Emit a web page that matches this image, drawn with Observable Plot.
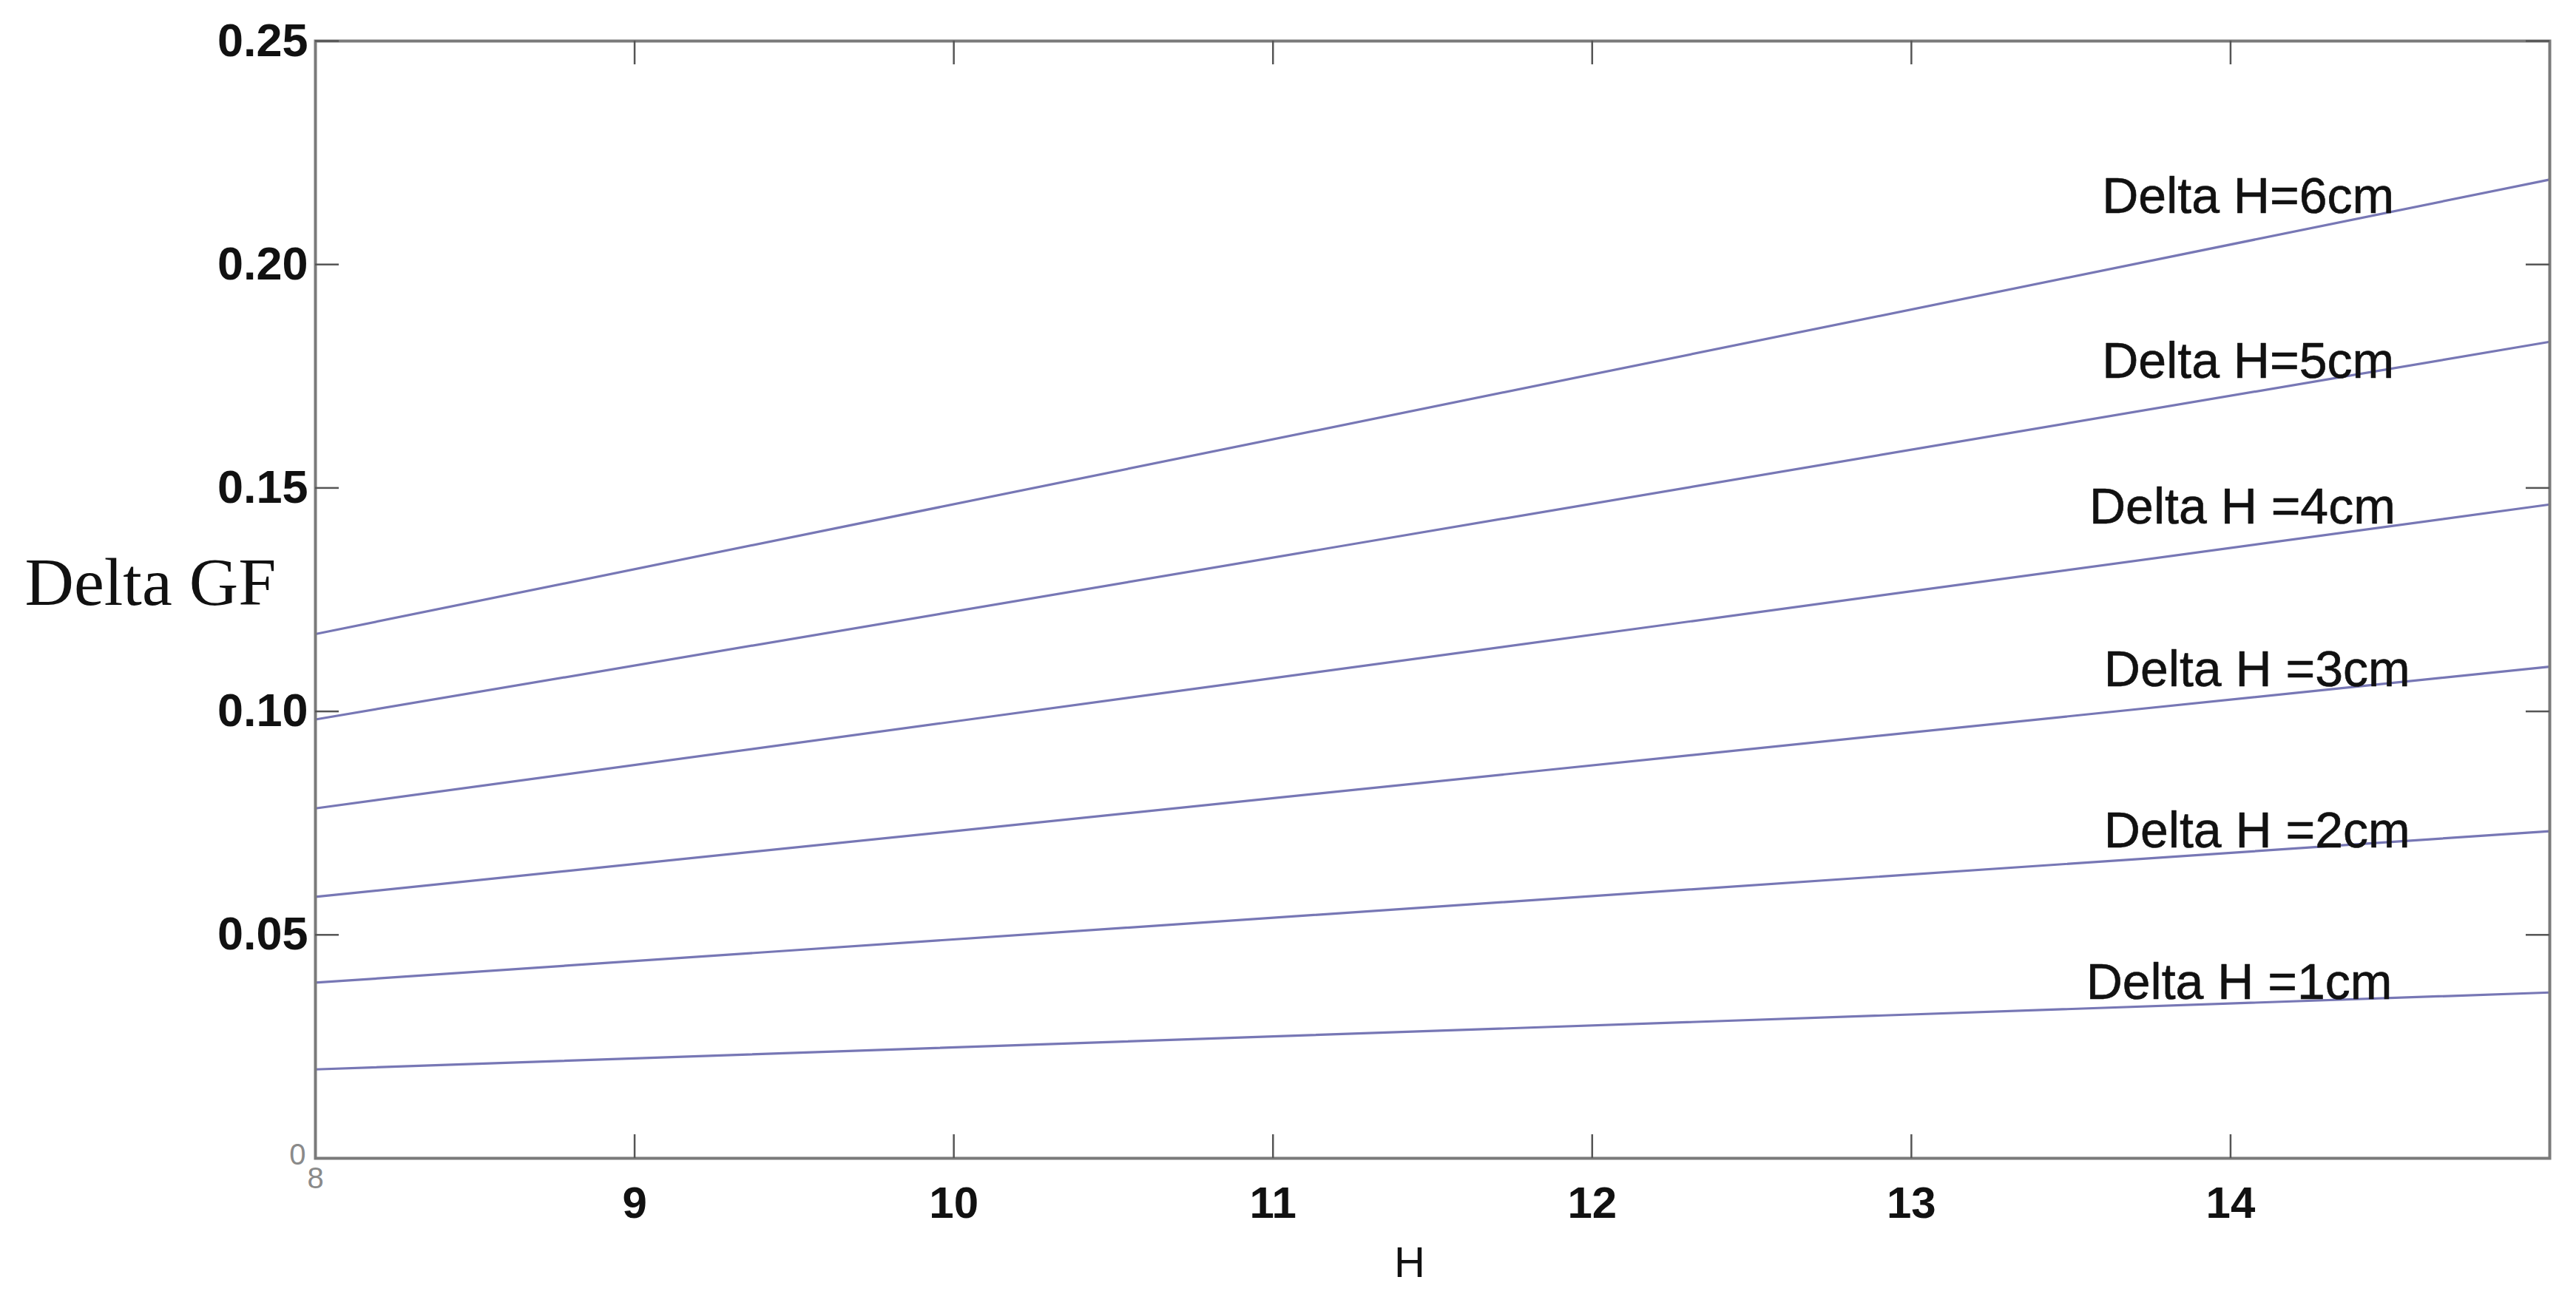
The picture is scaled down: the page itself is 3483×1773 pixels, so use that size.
<!DOCTYPE html>
<html><head><meta charset="utf-8">
<script src="https://cdn.jsdelivr.net/npm/d3@7"></script>
<script src="https://cdn.jsdelivr.net/npm/@observablehq/plot@0.6"></script>
<style>body{margin:0;background:#fff;}</style>
</head><body><div id="chart"></div>
<script>
// Data (H in cm, Delta GF)
const hValues = [8, 15];
const seriesNames = ["Delta H=1cm","Delta H=2cm","Delta H=3cm","Delta H=4cm","Delta H=5cm","Delta H=6cm"];
const gf1 = [0.0199, 0.0371];
const gf2 = [0.0393, 0.0732];
const gf3 = [0.0585, 0.1100];
const gf4 = [0.0783, 0.1463];
const gf5 = [0.0982, 0.1827];
const gf6 = [0.1173, 0.2190];
// label anchor points (data units)
const labelText = ["Delta H =1cm","Delta H =2cm","Delta H =3cm","Delta H =4cm","Delta H=5cm","Delta H=6cm"];
const labelH  = [14.027, 14.083, 14.083, 14.037, 14.055, 14.055];
const labelGF = [0.0393, 0.0732, 0.1092, 0.1456, 0.1783, 0.2151];
const yTicks = [0.05, 0.10, 0.15, 0.20, 0.25];
const xTicks = [9, 10, 11, 12, 13, 14];
const xLabel = "H";
const yLabel = "Delta GF";

const W = 3483, HH = 1773;
const mL = 426, mR = 36, mT = 55, mB = 207;
const innerW = W - mL - mR, innerH = HH - mT - mB;
const tick = 32;

const allSeries = [gf1, gf2, gf3, gf4, gf5, gf6];
const rows = [];
allSeries.forEach((vals, i) => vals.forEach((v, j) => rows.push({series: seriesNames[i], H: hValues[j], GF: v})));
const labels = labelText.map((t, i) => ({text: t, H: labelH[i], GF: labelGF[i]}));

const chart = Plot.plot({
  width: W, height: HH,
  marginLeft: mL, marginRight: mR, marginTop: mT, marginBottom: mB,
  x: {domain: [8, 15]},
  y: {domain: [0, 0.25]},
  style: {background: "#fff", fontFamily: "'Liberation Sans', Arial, sans-serif", color: "#111"},
  marks: [
    Plot.line(rows, {x: "H", y: "GF", z: "series", stroke: "#7777b5", strokeWidth: 3.2}),
    Plot.frame({stroke: "#7a7a7a", strokeWidth: 4}),
    Plot.ruleY(yTicks, {y: d => d, insetRight: innerW - tick, stroke: "#555", strokeWidth: 2.5}),
    Plot.ruleY(yTicks, {y: d => d, insetLeft: innerW - tick, stroke: "#555", strokeWidth: 2.5}),
    Plot.ruleX(xTicks, {x: d => d, insetTop: innerH - tick, stroke: "#555", strokeWidth: 2.5}),
    Plot.ruleX(xTicks, {x: d => d, insetBottom: innerH - tick, stroke: "#555", strokeWidth: 2.5}),
    Plot.axisY(yTicks, {tickSize: 0, tickPadding: 10, tickFormat: d3.format(".2f"), fontSize: 63, fontWeight: "bold", label: null}),
    Plot.axisY([0], {tickSize: 0, tickPadding: 13, dy: -4, tickFormat: () => "0", fontSize: 40, color: "#8a8a8a", label: null}),
    Plot.axisX(xTicks, {tickSize: 0, tickPadding: 38, tickFormat: d3.format("d"), fontSize: 60, fontWeight: "bold", label: null}),
    Plot.axisX([8], {tickSize: 0, tickPadding: 12, tickFormat: d3.format("d"), fontSize: 40, color: "#8a8a8a", label: null}),
    Plot.text(labels, {x: "H", y: "GF", text: "text", fontSize: 68, fill: "#111", stroke: "#111", strokeWidth: 0.6}),
    Plot.text([xLabel], {frameAnchor: "bottom", dy: 160, dx: -31, text: d => d, fontSize: 58, fill: "#111"}),
    Plot.text([yLabel], {frameAnchor: "left", textAnchor: "start", dx: -393, dy: -22, text: d => d, fontFamily: "'Liberation Serif', 'Times New Roman', serif", fontSize: 92, fill: "#111"})
  ]
});
document.getElementById("chart").appendChild(chart);
</script>
</body></html>
